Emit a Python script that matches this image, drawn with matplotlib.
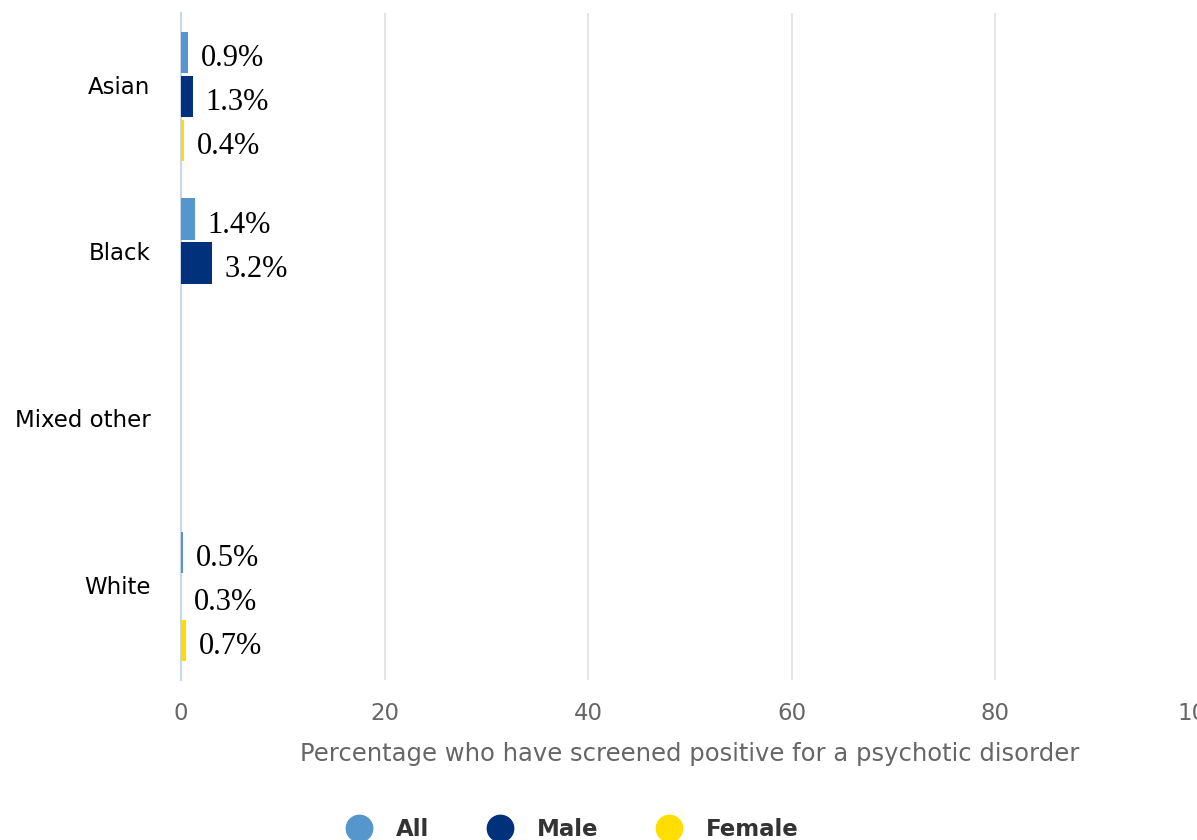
import matplotlib.pyplot as plt
from matplotlib.lines import Line2D
import numpy as np

# Categories and series (bar lengths as drawn, labels as printed)
categories = ['Asian', 'Black', 'Mixed other', 'White']
series = ['All', 'Male', 'Female']
colors = ['#5596cc', '#00317a', '#ffdd00']

bar_all = [0.7, 1.4, np.nan, 0.2]
bar_male = [1.2, 3.0, np.nan, 0.0]
bar_female = [0.3, np.nan, np.nan, 0.5]

lab_all = ['0.9%', '1.4%', '', '0.5%']
lab_male = ['1.3%', '3.2%', '', '0.3%']
lab_female = ['0.4%', '', '', '0.7%']

bars = [bar_all, bar_male, bar_female]
labels = [lab_all, lab_male, lab_female]

fig = plt.figure(figsize=(11.97, 8.4), dpi=100)
ax = fig.add_axes([0.1512, 0.1905, 0.8505, 0.794])

y = np.arange(len(categories))
h = 0.25
step = 0.264
for k, (vals, labs, c) in enumerate(zip(bars, labels, colors)):
    pos = y + (k - 1) * step
    ax.barh(pos, np.nan_to_num(vals), height=h, color=c, zorder=3)
    for p, v, t in zip(pos, vals, labs):
        if t:
            ax.annotate(t, (0 if np.isnan(v) else v, p), xytext=(9, -4.5),
                        textcoords='offset points', va='center', ha='left',
                        fontsize=22, family='Liberation Serif', color='black')

ax.set_xlim(0, 100)
ax.set_ylim(len(categories) - 0.5, -0.5)
ax.set_xticks([0, 20, 40, 60, 80, 100])
ax.set_yticks(y - 0.07)
ax.set_yticklabels(categories, fontsize=16.5, family='DejaVu Sans', color='black')
for t in ax.get_xticklabels():
    t.set_fontsize(16.5)
    t.set_family('DejaVu Sans')
    t.set_color('#666666')
ax.tick_params(axis='x', length=0, pad=16)
ax.tick_params(axis='y', length=0, pad=22)
ax.grid(axis='x', color='#e0e0e0', linewidth=1.2, zorder=0)
for s in ['top', 'right', 'bottom']:
    ax.spines[s].set_visible(False)
ax.spines['left'].set_color('#ccd6eb')
ax.spines['left'].set_linewidth(1.5)
ax.set_xlabel('Percentage who have screened positive for a psychotic disorder',
              fontsize=17.5, family='DejaVu Sans', color='#666666', labelpad=12)

handles = [Line2D([], [], marker='o', linestyle='', markersize=19, color=c) for c in colors]
leg = fig.legend(handles, series, loc='center', bbox_to_anchor=(0.474, 0.012), ncol=3,
                 frameon=False, columnspacing=2.1, handletextpad=0.6,
                 prop={'family': 'DejaVu Sans', 'weight': 'bold', 'size': 16.5})
for t in leg.get_texts():
    t.set_color('#333333')

fig.savefig('out.png', dpi=100)
